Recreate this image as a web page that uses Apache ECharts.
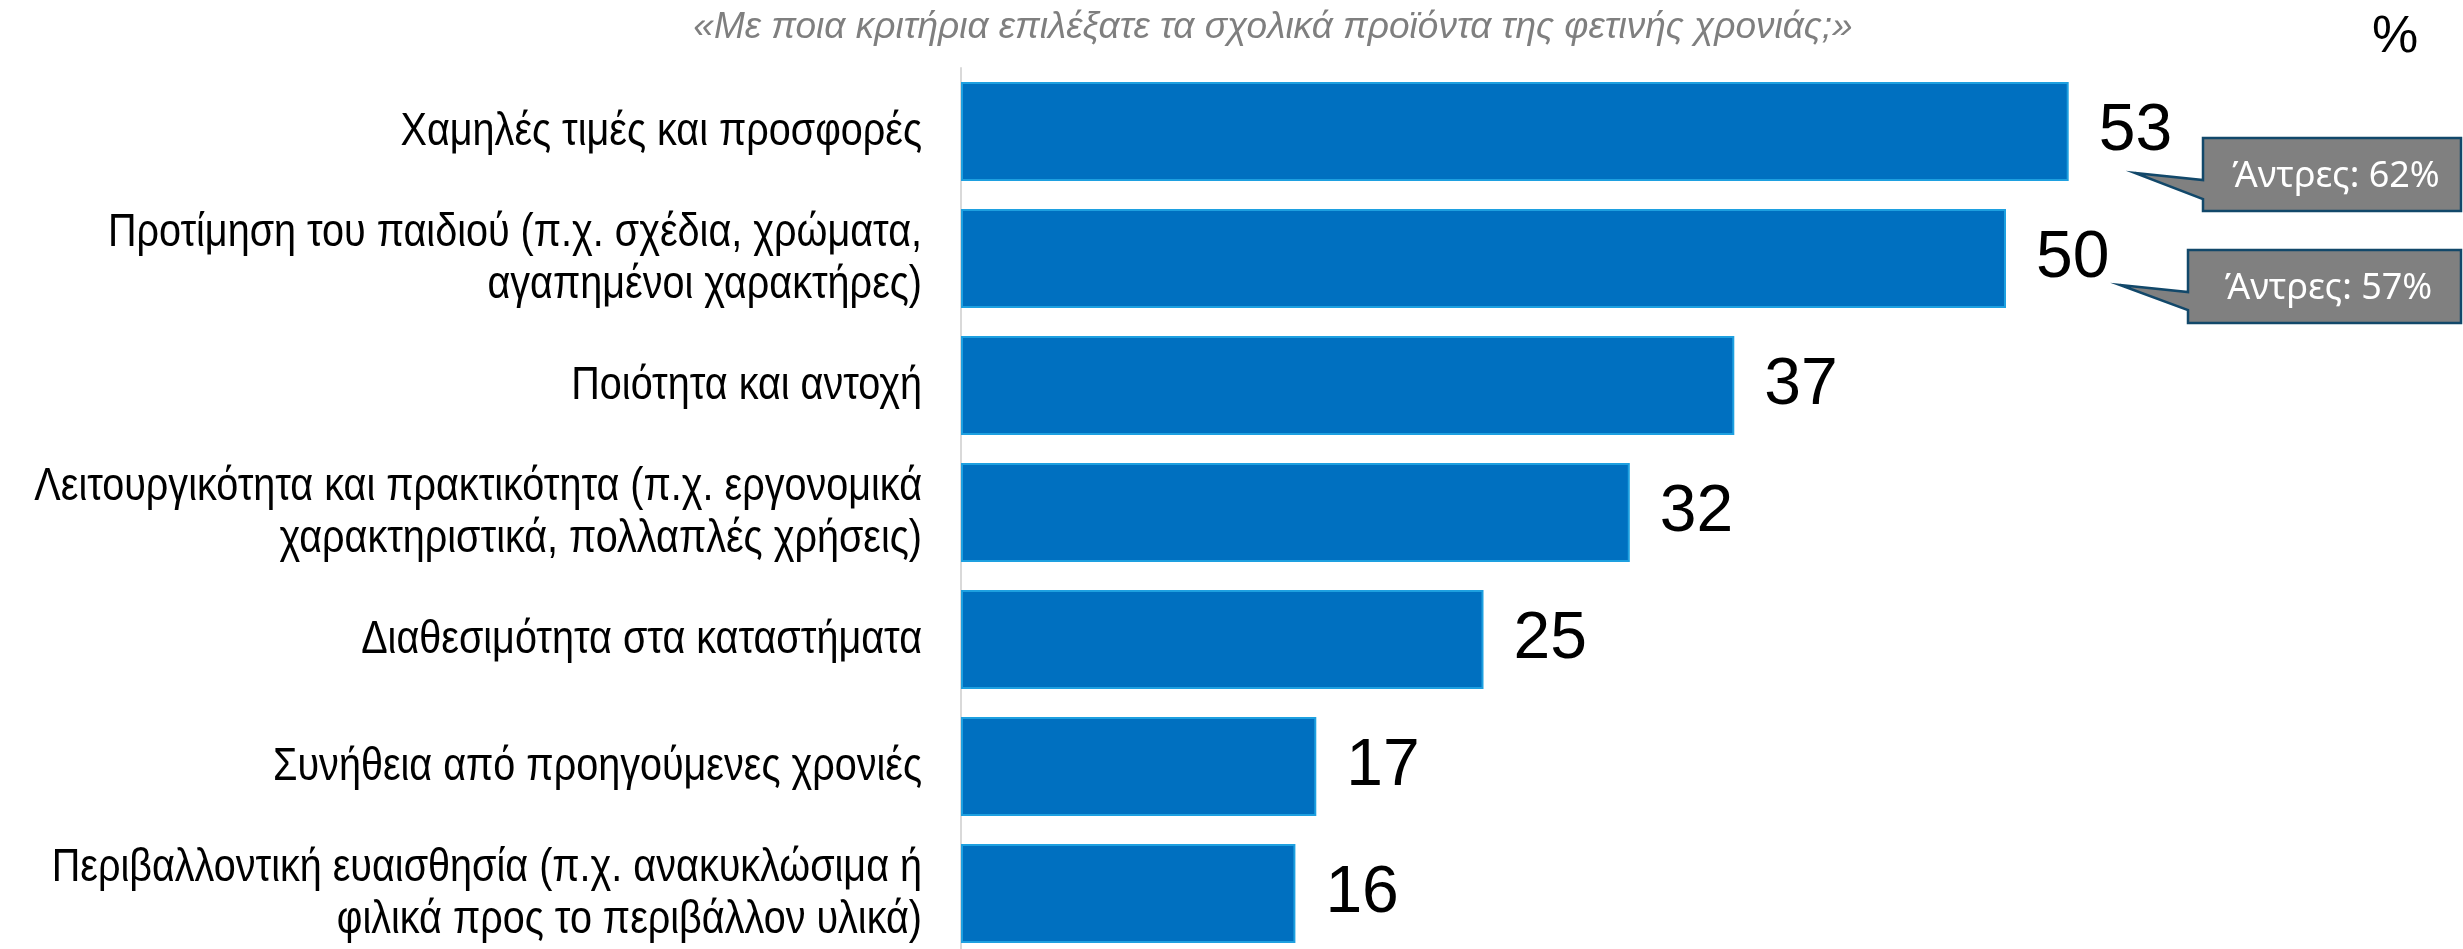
<!DOCTYPE html>
<html><head><meta charset="utf-8">
<script src="https://cdn.jsdelivr.net/npm/echarts@6/dist/echarts.min.js"></script>
<style>html,body{margin:0;padding:0;background:#fff}#c{width:2463px;height:949px}</style>
</head><body><div id="c"></div>
<script>
const categories = [
  'Χαμηλές τιμές και προσφορές',
  'Προτίμηση του παιδιού (π.χ. σχέδια, χρώματα,\nαγαπημένοι χαρακτήρες)',
  'Ποιότητα και αντοχή',
  'Λειτουργικότητα και πρακτικότητα (π.χ. εργονομικά\nχαρακτηριστικά, πολλαπλές χρήσεις)',
  'Διαθεσιμότητα στα καταστήματα',
  'Συνήθεια από προηγούμενες χρονιές',
  'Περιβαλλοντική ευαισθησία (π.χ. ανακυκλώσιμα ή\nφιλικά προς το περιβάλλον υλικά)'
];
const values = [53, 50, 37, 32, 25, 17, 16];
const calloutLabels = ['Άντρες: 62%', 'Άντρες: 57%'];
const titleText = '«Με ποια κριτήρια επιλέξατε τα σχολικά προϊόντα της φετινής χρονιάς;»';
const unitText = '%';

const chart = echarts.init(document.getElementById('c'));

function callout(tipX, tipY, boxL, boxT, boxR, boxB, baseT, baseB, text) {
  return {
    type: 'group',
    children: [
      {
        type: 'polygon',
        shape: { points: [[boxL, boxT], [boxR, boxT], [boxR, boxB], [boxL, boxB], [boxL, baseB], [tipX, tipY], [boxL, baseT]] },
        style: { fill: '#808080', stroke: '#12486a', lineWidth: 2.5 }
      },
      {
        type: 'text',
        style: { text: text, x: (boxL + boxR) / 2 + 4, y: (boxT + boxB) / 2 + 2, fill: '#ffffff', font: '36px "Noto Sans", sans-serif', align: 'center', verticalAlign: 'middle' }
      }
    ]
  };
}

chart.setOption({
  animation: false,
  grid: { left: 961, top: 68, width: 1254, bottom: -8, outerBoundsMode: 'none', containLabel: false },
  title: {
    text: titleText,
    left: 1268, top: 4, textAlign: 'center',
    textStyle: { fontFamily: '"Liberation Sans", sans-serif', fontStyle: 'italic', fontWeight: 'normal', fontSize: 37, color: '#7f7f7f' }
  },
  xAxis: { type: 'value', min: 0, max: 60, show: false },
  yAxis: {
    type: 'category', data: categories, inverse: true,
    axisLine: { show: true, lineStyle: { color: '#d9d9d9', width: 2 } },
    axisTick: { show: false },
    axisLabel: { show: false }
  },
  series: [{
    type: 'bar', data: values, barCategoryGap: '22%',
    itemStyle: { color: '#0070c0', borderColor: '#1ea0e0', borderWidth: 2 },
    label: { show: true, position: 'right', distance: 30, fontFamily: '"Liberation Sans", Arial, sans-serif', fontSize: 66, color: '#000' }
  }, {
    type: 'custom',
    silent: true,
    clip: false,
    data: categories.map((c, i) => [0, i]),
    renderItem: function (params, api) {
      const idx = api.value(1);
      const p = api.coord([0, idx]);
      return {
        type: 'text',
        x: p[0] - 39, y: p[1] + 1,
        scaleX: 0.86,
        style: {
          text: categories[idx], x: 0, y: 0,
          font: '46px "Liberation Sans", sans-serif', lineHeight: 52,
          align: 'right', verticalAlign: 'middle', fill: '#000'
        }
      };
    }
  }],
  graphic: [
    { type: 'text', style: { text: unitText, x: 2395, y: 38, align: 'center', verticalAlign: 'middle', font: '52px "Liberation Sans", sans-serif', fill: '#000' } },
    callout(2135, 173, 2203, 138, 2461, 211, 180, 199, calloutLabels[0]),
    callout(2120, 285, 2188, 250, 2461, 323, 292, 310, calloutLabels[1])
  ]
});
</script></body></html>
